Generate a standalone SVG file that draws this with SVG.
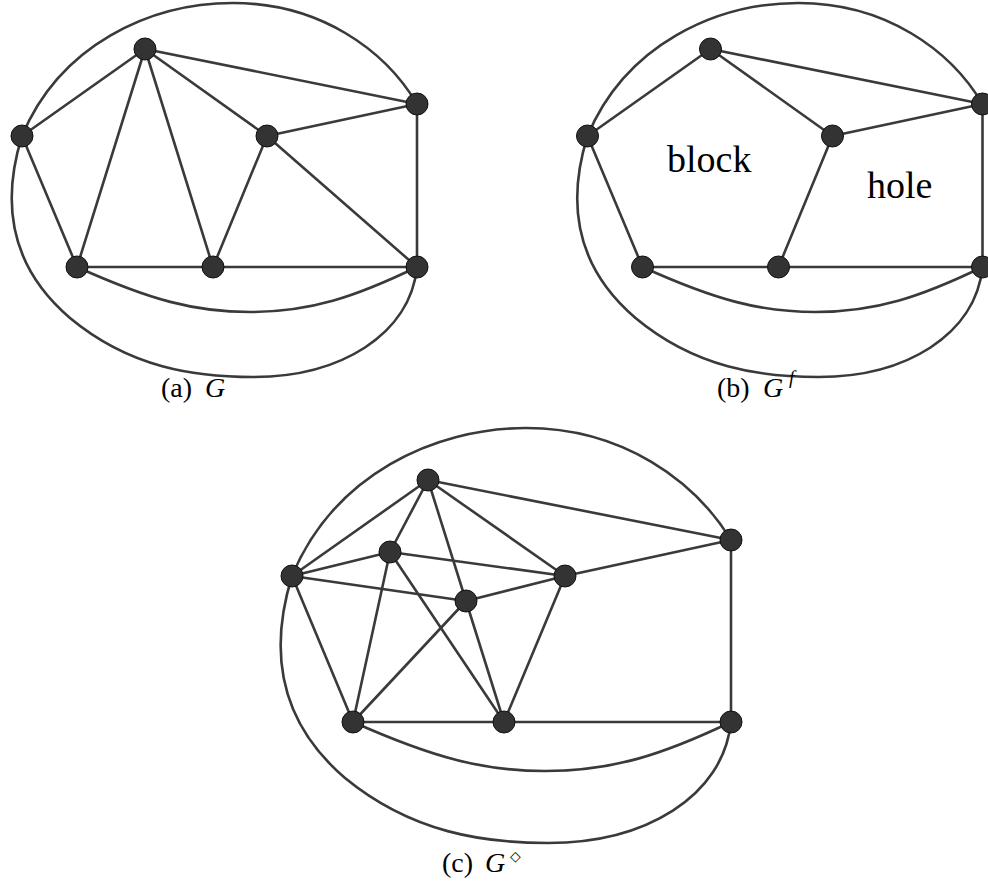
<svg xmlns="http://www.w3.org/2000/svg" width="988" height="883" viewBox="0 0 988 883">
<style>
.e{fill:none;stroke:#3a3a3a;stroke-width:2.6;stroke-linecap:round}
.n{fill:#333333;stroke:#111111;stroke-width:1}
text{font-family:"Liberation Serif","DejaVu Serif","Times New Roman",serif;fill:#000}
.cap{font-size:28px}
.lab{font-size:38px}
.it{font-style:italic}
</style>
<rect width="988" height="883" fill="#ffffff"/>

<!-- (a) G -->
<g id="graphA">
<g id="edgesA">
<path class="e" d="M22,136 C60,45 150,3 233,3 C320,3 385,50 417,104"/>
<path class="e" d="M22,136 C2,200 8,265 70,318 C130,368 195,377 253,377 C340,377 410,335 417,267"/>
<path class="e" d="M77,267 C150,300 195,312 250,312 C310,312 355,297 417,267"/>
<line class="e" x1="145" y1="49" x2="22" y2="136"/>
<line class="e" x1="145" y1="49" x2="77" y2="267"/>
<line class="e" x1="145" y1="49" x2="213" y2="267"/>
<line class="e" x1="145" y1="49" x2="267" y2="136"/>
<line class="e" x1="145" y1="49" x2="417" y2="104"/>
<line class="e" x1="22" y1="136" x2="77" y2="267"/>
<line class="e" x1="77" y1="267" x2="213" y2="267"/>
<line class="e" x1="213" y1="267" x2="417" y2="267"/>
<line class="e" x1="213" y1="267" x2="267" y2="136"/>
<line class="e" x1="267" y1="136" x2="417" y2="104"/>
<line class="e" x1="267" y1="136" x2="417" y2="267"/>
<line class="e" x1="417" y1="104" x2="417" y2="267"/>
</g>
<g id="a_A"><circle class="n" cx="145" cy="49" r="11"/></g>
<g id="a_B"><circle class="n" cx="22" cy="136" r="11"/></g>
<g id="a_C"><circle class="n" cx="77" cy="267" r="11"/></g>
<g id="a_D"><circle class="n" cx="213" cy="267" r="11"/></g>
<g id="a_E"><circle class="n" cx="267" cy="136" r="11"/></g>
<g id="a_F"><circle class="n" cx="417" cy="104" r="11"/></g>
<g id="a_H"><circle class="n" cx="417" cy="267" r="11"/></g>
<text class="cap" x="161" y="397">(a)</text>
<text class="cap it" x="205" y="397">G</text>
</g>

<!-- (b) G^f -->
<g id="graphB">
<g id="edgesB" transform="translate(565.5,0)">
<path class="e" d="M22,136 C60,45 150,3 233,3 C320,3 385,50 417,104"/>
<path class="e" d="M22,136 C2,200 8,265 70,318 C130,368 195,377 253,377 C340,377 410,335 417,267"/>
<path class="e" d="M77,267 C150,300 195,312 250,312 C310,312 355,297 417,267"/>
<line class="e" x1="145" y1="49" x2="22" y2="136"/>
<line class="e" x1="145" y1="49" x2="267" y2="136"/>
<line class="e" x1="145" y1="49" x2="417" y2="104"/>
<line class="e" x1="22" y1="136" x2="77" y2="267"/>
<line class="e" x1="77" y1="267" x2="213" y2="267"/>
<line class="e" x1="213" y1="267" x2="417" y2="267"/>
<line class="e" x1="213" y1="267" x2="267" y2="136"/>
<line class="e" x1="267" y1="136" x2="417" y2="104"/>
<line class="e" x1="417" y1="104" x2="417" y2="267"/>
</g>
<g id="b_A"><circle class="n" cx="710.5" cy="49" r="11"/></g>
<g id="b_B"><circle class="n" cx="587.5" cy="136" r="11"/></g>
<g id="b_C"><circle class="n" cx="642.5" cy="267" r="11"/></g>
<g id="b_D"><circle class="n" cx="778.5" cy="267" r="11"/></g>
<g id="b_E"><circle class="n" cx="832.5" cy="136" r="11"/></g>
<g id="b_F"><circle class="n" cx="982.5" cy="104" r="11"/></g>
<g id="b_H"><circle class="n" cx="982.5" cy="267" r="11"/></g>
<text class="lab" x="667" y="172">block</text>
<text class="lab" x="867" y="198">hole</text>
<text class="cap" x="717" y="397">(b)</text>
<text class="cap it" x="763" y="397">G</text>
<text class="it" x="789" y="384" font-size="19">f</text>
</g>

<!-- (c) G diamond -->
<g id="graphC">
<g id="edgesC">
<path class="e" d="M292,576 C334,475 434,428 526,428 C623,428 695,481 731,540"/>
<path class="e" d="M292,576 C270,647 276,719 345,778 C412,833 484,843 548,843 C645,843 723,797 731,722"/>
<path class="e" d="M353,722 C434,758 484,771 545,771 C612,771 662,755 731,722"/>
<line class="e" x1="428" y1="480" x2="292" y2="576"/>
<line class="e" x1="428" y1="480" x2="390" y2="552"/>
<line class="e" x1="428" y1="480" x2="466" y2="601"/>
<line class="e" x1="428" y1="480" x2="565" y2="576"/>
<line class="e" x1="428" y1="480" x2="731" y2="540"/>
<line class="e" x1="292" y1="576" x2="390" y2="552"/>
<line class="e" x1="292" y1="576" x2="466" y2="601"/>
<line class="e" x1="292" y1="576" x2="353" y2="722"/>
<line class="e" x1="390" y1="552" x2="565" y2="576"/>
<line class="e" x1="390" y1="552" x2="353" y2="722"/>
<line class="e" x1="390" y1="552" x2="504" y2="722"/>
<line class="e" x1="466" y1="601" x2="565" y2="576"/>
<line class="e" x1="466" y1="601" x2="353" y2="722"/>
<line class="e" x1="466" y1="601" x2="504" y2="722"/>
<line class="e" x1="565" y1="576" x2="731" y2="540"/>
<line class="e" x1="565" y1="576" x2="504" y2="722"/>
<line class="e" x1="731" y1="540" x2="731" y2="722"/>
<line class="e" x1="353" y1="722" x2="504" y2="722"/>
<line class="e" x1="504" y1="722" x2="731" y2="722"/>
</g>
<g id="c_A"><circle class="n" cx="428" cy="480" r="11"/></g>
<g id="c_B"><circle class="n" cx="292" cy="576" r="11"/></g>
<g id="c_I1"><circle class="n" cx="390" cy="552" r="11"/></g>
<g id="c_I2"><circle class="n" cx="466" cy="601" r="11"/></g>
<g id="c_E"><circle class="n" cx="565" cy="576" r="11"/></g>
<g id="c_F"><circle class="n" cx="731" cy="540" r="11"/></g>
<g id="c_C"><circle class="n" cx="353" cy="722" r="11"/></g>
<g id="c_D"><circle class="n" cx="504" cy="722" r="11"/></g>
<g id="c_H"><circle class="n" cx="731" cy="722" r="11"/></g>
<text class="cap" x="442" y="872">(c)</text>
<text class="cap it" x="485" y="872">G</text>
<text x="510" y="861" font-size="14" style="font-family:'DejaVu Sans',sans-serif">◇</text>
</g>
</svg>
